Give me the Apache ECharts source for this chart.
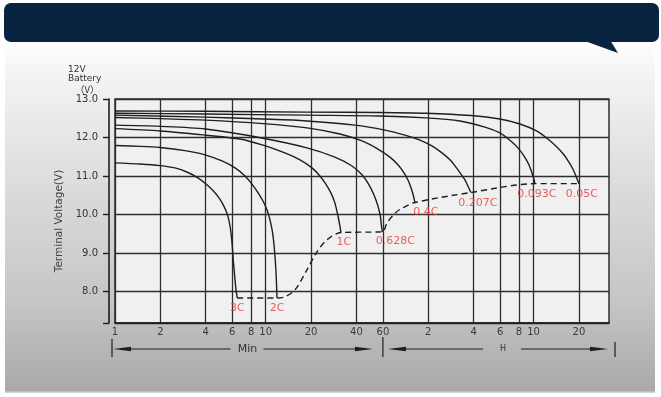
<!DOCTYPE html>
<html>
<head>
<meta charset="utf-8">
<script src="https://cdn.jsdelivr.net/npm/echarts@6/dist/echarts.min.js"></script>
<style>
  html, body { margin: 0; padding: 0; background: #ffffff; }
  #chart { width: 661px; height: 397px; }
</style>
</head>
<body>
<div id="chart"></div>
<script>
// Discharge rates, in the order the curves fall off (fastest first)
const rates = ['3C', '2C', '1C', '0.628C', '0.4C', '0.207C', '0.093C', '0.05C'];

// Discharge time (min) and terminal voltage (V) along each curve, before its end point
const t3C = [1, 1.47, 1.99, 2.5, 3.05, 3.55, 4.02, 4.47, 4.9, 5.29, 5.58, 5.8, 5.98, 6.11, 6.26, 6.38];
const v3C = [11.34, 11.31, 11.27, 11.21, 11.09, 10.95, 10.79, 10.62, 10.43, 10.21, 9.99, 9.7, 9.26, 8.77, 8.3, 7.99];

const t2C = [1, 1.47, 1.99, 2.91, 3.96, 5.13, 6.26, 7.29, 8.11, 8.89, 9.6, 10.2, 10.68, 11.1, 11.44, 11.71];
const v2C = [11.79, 11.77, 11.74, 11.66, 11.55, 11.39, 11.21, 11.0, 10.79, 10.57, 10.35, 10.12, 9.86, 9.54, 9.08, 8.51];

const t1C = [1, 2, 4, 6.75, 9.6, 13.4, 16.9, 20.3, 22.9, 25.1, 27.1, 28.8, 30.2, 31.1];
const v1C = [12.23, 12.17, 12.06, 11.96, 11.8, 11.6, 11.42, 11.21, 11.0, 10.79, 10.56, 10.3, 9.96, 9.7];

const t0628C = [1, 2, 4, 9.6, 18.8, 28.8, 37.4, 43.6, 48.5, 52.3, 55.6, 57.8, 58.5];
const v0628C = [12.32, 12.29, 12.22, 11.98, 11.73, 11.49, 11.26, 11.03, 10.77, 10.51, 10.22, 9.94, 9.75];

const t04C = [1, 2, 4, 9.6, 18.8, 31.1, 43.6, 55.6, 66.8, 75.5, 82.8, 88.6, 92.8, 95.7];
const v04C = [12.52, 12.49, 12.45, 12.36, 12.25, 12.09, 11.91, 11.7, 11.49, 11.29, 11.08, 10.87, 10.66, 10.48];

const t0207C = [1, 3.96, 9.6, 18.8, 39.1, 61.9, 84, 105.7, 126.9, 147.9, 167.1, 183.2, 197.7, 210.2, 220];
const v0207C = [12.58, 12.53, 12.48, 12.43, 12.32, 12.19, 12.06, 11.93, 11.78, 11.6, 11.42, 11.23, 11.05, 10.9, 10.74];

const t0093C = [1, 3.96, 18.8, 57.4, 115.8, 194.7, 285.3, 358.6, 417.9, 472.4, 517.6, 558.8, 584.9, 603.2];
const v0093C = [12.63, 12.61, 12.58, 12.56, 12.51, 12.43, 12.27, 12.12, 11.93, 11.73, 11.52, 11.29, 11.08, 10.92];

const t005C = [1, 3.96, 18.8, 57.4, 115.8, 230.3, 358.6, 487, 627.5, 746.8, 857, 953.7, 1029.5, 1094, 1146];
const v005C = [12.69, 12.68, 12.66, 12.65, 12.63, 12.57, 12.48, 12.35, 12.17, 11.96, 11.75, 11.55, 11.36, 11.18, 11.0];

// End of discharge for each rate (time in min, final voltage in V)
const endTimes = [6.48, 11.89, 31.6, 59.5, 97.9, 230, 612, 1200];
const endVolts = [7.83, 7.83, 9.53, 9.55, 10.31, 10.57, 10.8, 10.8];

// Final-voltage envelope joining the end points
const cutoffTimes = [6.48, 11.89, 13.4, 15.65, 18.8, 21.9, 25.5, 31.6, 59.5, 63.8, 72.1, 77.8, 97.9, 230, 612, 1200];
const cutoffVolts = [7.83, 7.83, 7.86, 8.04, 8.56, 9.03, 9.34, 9.53, 9.55, 9.78, 10.03, 10.13, 10.31, 10.57, 10.8, 10.8];

// Axis ticks: minutes up to 60, then hours
const xTickValues = [1, 2, 4, 6, 8, 10, 20, 40, 60, 120, 240, 360, 480, 600, 1200];
const xTickLabels = ['1', '2', '4', '6', '8', '10', '20', '40', '60', '2', '4', '6', '8', '10', '20'];
const yTickValues = [8, 9, 10, 11, 12, 13];
const xMin = 1, xMax = 1900;
const yMin = 7.18, yMax = 13;

const curveTimes = [t3C, t2C, t1C, t0628C, t04C, t0207C, t0093C, t005C];
const curveVolts = [v3C, v2C, v1C, v0628C, v04C, v0207C, v0093C, v005C];

// label nudges (px) for the rate tags under each end point
const tagNudge = [[0, 10], [0, 10], [3, 10], [13, 9], [11, 10], [7, 11], [2, 10], [3, 10]];

const INK = '#1e1e1e';
const GRID_INK = '#2e2e2e';
const RED = '#e63b37';
const FONT = 'DejaVu Sans';

const chart = echarts.init(document.getElementById('chart'), null, { renderer: 'canvas' });

const curveSeries = rates.map((r, i) => ({
  name: r,
  type: 'line',
  data: curveTimes[i].map((t, k) => [t, curveVolts[i][k]]).concat([[endTimes[i], endVolts[i]]]),
  smooth: 0.3,
  symbol: 'none',
  silent: true,
  z: 4,
  lineStyle: { color: INK, width: 1.4 }
}));

const cutoffSeries = {
  name: 'cutoff',
  type: 'line',
  data: cutoffTimes.map((t, k) => [t, cutoffVolts[k]]),
  smooth: 0.3,
  symbol: 'none',
  silent: true,
  z: 4,
  lineStyle: { color: INK, width: 1.4, type: [6, 4] }
};

const tagSeries = {
  name: 'tags',
  type: 'scatter',
  symbolSize: 0,
  silent: true,
  z: 5,
  data: endTimes.map((t, i) => ({
    value: [t, endVolts[i]],
    name: rates[i],
    label: { offset: tagNudge[i] }
  })),
  label: {
    show: true,
    position: 'inside',
    formatter: '{b}',
    color: RED,
    fontSize: 11,
    fontFamily: FONT
  }
};

function xLabel(v) {
  for (let i = 0; i < xTickValues.length; i++) {
    if (Math.abs(Math.log(v / xTickValues[i])) < 1e-6) return xTickLabels[i];
  }
  return '';
}

chart.setOption({
  animation: false,
  grid: {
    left: 115, top: 99, right: 52, bottom: 74,
    show: true,
    backgroundColor: '#f0f0f0',
    borderColor: GRID_INK,
    borderWidth: 1.5
  },
  xAxis: {
    type: 'log',
    logBase: 10,
    min: xMin,
    max: xMax,
    axisLine: { show: true, lineStyle: { color: INK, width: 1.6 } },
    axisTick: { show: false, customValues: xTickValues },
    axisLabel: {
      customValues: xTickValues,
      formatter: xLabel,
      color: '#3a3a3a',
      fontSize: 10,
      fontFamily: FONT,
      margin: 4
    },
    splitLine: { show: true, lineStyle: { color: GRID_INK, width: 1.3 } }
  },
  yAxis: {
    type: 'value',
    min: yMin,
    max: yMax,
    offset: 6,
    name: 'Terminal Voltage(V)',
    nameLocation: 'middle',
    nameGap: 43,
    nameTextStyle: { color: '#444', fontSize: 10.5, fontFamily: FONT, padding: [0, 20, 0, 0] },
    axisLine: { show: true, lineStyle: { color: INK, width: 1.6 } },
    axisTick: {
      show: true,
      length: 6,
      customValues: [yMin].concat(yTickValues),
      lineStyle: { color: INK, width: 1.4 }
    },
    axisLabel: {
      customValues: yTickValues,
      formatter: v => v.toFixed(1),
      color: '#333',
      fontSize: 10,
      fontFamily: FONT,
      margin: 11
    },
    splitLine: { show: true, lineStyle: { color: GRID_INK, width: 1.3 } }
  },
  series: curveSeries.concat([cutoffSeries, tagSeries])
});

// Page decoration and the Min / H spans under the time axis
const px = v => chart.convertToPixel({ xAxisIndex: 0 }, v);
const xStart = px(xMin) - 3;
const xHour = px(60);
const xEnd = px(xMax) + 6;
const spanY = 349;
const minMid = (xStart + xHour) / 2;
const hMid = (xHour + xEnd) / 2;

function arrowHead(tipX, dir) {
  // dir = -1 points left, +1 points right
  const baseX = tipX - dir * 18;
  return {
    type: 'polygon',
    shape: { points: [[tipX, spanY], [baseX, spanY - 2.2], [baseX, spanY + 2.2]] },
    style: { fill: INK }
  };
}
function seg(x1, y1, x2, y2, w) {
  return { type: 'line', shape: { x1, y1, x2, y2 }, style: { stroke: INK, lineWidth: w || 1.1 } };
}

chart.setOption({
  graphic: [
    {
      type: 'rect', z: -10, silent: true,
      shape: { x: 5, y: 42, width: 650, height: 350 },
      style: {
        fill: new echarts.graphic.LinearGradient(0, 0, 0, 1, [
          { offset: 0, color: '#fefefe' },
          { offset: 0.1, color: '#f3f3f3' },
          { offset: 0.45, color: '#d9d9d9' },
          { offset: 0.74, color: '#c6c6c6' },
          { offset: 0.86, color: '#bab8b6' },
          { offset: 1, color: '#a9a9a9' }
        ])
      }
    },
    {
      type: 'rect', z: -9, silent: true,
      shape: { x: 5, y: 391.5, width: 650, height: 1.5 },
      style: { fill: '#d6d6d6' }
    },
    {
      type: 'rect', z: -8, silent: true,
      shape: { x: 4, y: 3, width: 655, height: 39, r: 7 },
      style: { fill: '#082441' }
    },
    {
      type: 'polygon', z: -8, silent: true,
      shape: { points: [[582, 40], [610, 40], [618, 53]] },
      style: { fill: '#082441' }
    },
    {
      type: 'group', silent: true,
      children: [
        { type: 'text', x: 68, y: 70, style: { text: '12V', fill: '#333', font: '9px "DejaVu Sans"', verticalAlign: 'middle' } },
        { type: 'text', x: 68, y: 79, style: { text: 'Battery', fill: '#333', font: '9px "DejaVu Sans"', verticalAlign: 'middle' } },
        { type: 'text', x: 75, y: 89, style: { text: '（V）', fill: '#333', font: '9.5px "Noto Sans CJK SC"', verticalAlign: 'middle' } }
      ]
    },
    {
      type: 'group', silent: true,
      children: [
        seg(xStart, 339, xStart, 357, 1.2),
        seg(xHour, 337, xHour, 357, 1.2),
        seg(xEnd, 342, xEnd, 357, 1.2),
        arrowHead(xStart + 1, -1),
        seg(xStart + 19, spanY, minMid - 17, spanY),
        { type: 'text', x: minMid, y: spanY, style: { text: 'Min', fill: '#333', font: '11px "DejaVu Sans"', align: 'center', verticalAlign: 'middle' } },
        seg(minMid + 16, spanY, xHour - 28, spanY),
        arrowHead(xHour - 10, 1),
        arrowHead(xHour + 5, -1),
        seg(xHour + 23, spanY, hMid - 16, spanY),
        { type: 'text', x: hMid + 4, y: spanY, style: { text: 'H', fill: '#333', font: '8px "DejaVu Sans"', align: 'center', verticalAlign: 'middle' } },
        seg(hMid + 22, spanY, xEnd - 25, spanY),
        arrowHead(xEnd - 7, 1)
      ]
    }
  ]
});
</script>
</body>
</html>
